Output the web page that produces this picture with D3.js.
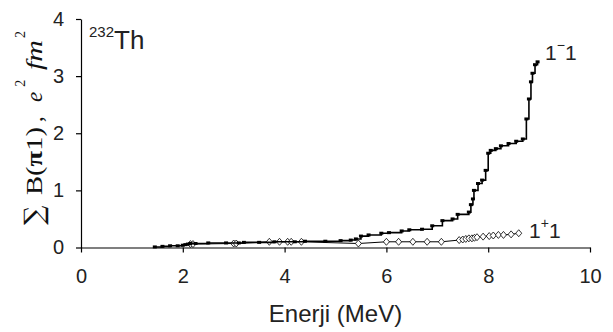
<!DOCTYPE html>
<html>
<head>
<meta charset="utf-8">
<script src="https://cdn.jsdelivr.net/npm/d3@7"></script>
<style>
  body { margin: 0; background: #fff; }
  svg { display: block; }
  .axis text { font-family: "Liberation Sans", Arial, sans-serif; font-size: 20px; fill: #222; }
  .axis path, .axis line { stroke: #000; stroke-width: 1.2; }
</style>
</head>
<body>
<div id="chart"></div>
<script>
var svgWidth = 613;
var svgHeight = 332;

// 1-1 cumulative strength (E in MeV, sum B in e^2 fm^2)
var minusEnergy = [1.45, 1.6, 1.75, 1.9, 2.0, 2.05, 2.1, 2.15, 2.25, 2.5, 2.85, 3.1, 3.2, 3.5, 3.8, 4.2, 4.4, 4.8, 5.1, 5.3, 5.4, 5.5, 5.65, 5.9, 6.05, 6.3, 6.45, 6.7, 6.9, 7.1, 7.3, 7.4, 7.62, 7.66, 7.7, 7.72, 7.8, 7.88, 7.95, 8.0, 8.05, 8.15, 8.25, 8.4, 8.55, 8.68, 8.75, 8.8, 8.84, 8.87, 8.92, 8.97];
var minusSum = [0.01, 0.02, 0.03, 0.03, 0.04, 0.05, 0.06, 0.07, 0.07, 0.08, 0.08, 0.08, 0.09, 0.09, 0.10, 0.10, 0.11, 0.11, 0.12, 0.13, 0.15, 0.20, 0.22, 0.25, 0.26, 0.29, 0.31, 0.32, 0.38, 0.47, 0.50, 0.58, 0.62, 0.75, 0.85, 1.0, 1.12, 1.18, 1.35, 1.65, 1.70, 1.73, 1.78, 1.82, 1.86, 1.90, 2.25, 2.6, 2.9, 3.05, 3.2, 3.25];

// 1+1 cumulative strength
var plusEnergy = [2.15, 2.2, 3.0, 3.05, 3.7, 3.9, 4.06, 4.13, 4.33, 5.45, 6.0, 6.24, 6.52, 6.8, 7.08, 7.43, 7.5, 7.56, 7.62, 7.68, 7.73, 7.78, 7.9, 8.02, 8.1, 8.2, 8.3, 8.45, 8.6];
var plusSum = [0.06, 0.06, 0.07, 0.07, 0.10, 0.10, 0.10, 0.10, 0.10, 0.07, 0.10, 0.10, 0.10, 0.10, 0.10, 0.13, 0.14, 0.15, 0.16, 0.16, 0.17, 0.18, 0.19, 0.20, 0.21, 0.22, 0.22, 0.23, 0.25];

var xTicks = [0, 2, 4, 6, 8, 10];
var yTicks = [0, 1, 2, 3, 4];

var minusData = minusEnergy.map((e, i) => ({ e: e, s: minusSum[i] }));
var plusData = plusEnergy.map((e, i) => ({ e: e, s: plusSum[i] }));

var svg = d3.select("#chart")
    .append("svg")
    .attr("width", svgWidth)
    .attr("height", svgHeight);

var x = d3.scaleLinear().domain([0, 10]).range([81, 590]);
var y = d3.scaleLinear().domain([0, 4]).range([247.5, 19]);

// axes
svg.append("g")
    .attr("class", "axis")
    .attr("transform", `translate(0, ${y(0)})`)
    .call(d3.axisBottom(x).tickValues(xTicks).tickFormat(d3.format("d"))
        .tickSize(5).tickSizeOuter(0).tickPadding(16));

svg.append("g")
    .attr("class", "axis")
    .attr("transform", `translate(${x(0)}, 0)`)
    .call(d3.axisLeft(y).tickValues(yTicks).tickFormat(d3.format("d"))
        .tickSize(5).tickSizeOuter(0).tickPadding(12));

// 1+1 line with open diamonds
var linePlus = d3.line().x(d => x(d.e)).y(d => y(d.s));
svg.append("path")
    .datum(plusData)
    .attr("fill", "none")
    .attr("stroke", "#000")
    .attr("stroke-width", 1)
    .attr("d", linePlus);

svg.selectAll(".diamond")
    .data(plusData)
    .enter()
    .append("path")
    .attr("class", "diamond")
    .attr("d", "M0,-3.5L3,0L0,3.5L-3,0Z")
    .attr("transform", d => `translate(${x(d.e)}, ${y(d.s)})`)
    .attr("fill", "#fff")
    .attr("stroke", "#000")
    .attr("stroke-width", 0.8);

// 1-1 step line with small filled markers
var lineMinus = d3.line().x(d => x(d.e)).y(d => y(d.s)).curve(d3.curveStepAfter);
svg.append("path")
    .datum(minusData)
    .attr("fill", "none")
    .attr("stroke", "#000")
    .attr("stroke-width", 1.6)
    .attr("d", lineMinus);

svg.selectAll(".sq")
    .data(minusData)
    .enter()
    .append("rect")
    .attr("class", "sq")
    .attr("x", d => x(d.e) - 2)
    .attr("y", d => y(d.s) - 1.5)
    .attr("width", 4)
    .attr("height", 3)
    .attr("fill", "#000");

// labels
var sans = "'Liberation Sans', Arial, sans-serif";

svg.append("text")
    .attr("x", x(5))
    .attr("y", 322)
    .attr("text-anchor", "middle")
    .attr("font-family", sans)
    .attr("font-size", 24)
    .attr("fill", "#222")
    .text("Enerji (MeV)");

var th = svg.append("text")
    .attr("x", 89)
    .attr("y", 49)
    .attr("font-family", sans)
    .attr("font-size", 26)
    .attr("fill", "#222");
th.append("tspan").attr("font-size", 15).attr("dy", -12).text("232");
th.append("tspan").attr("dy", 12).text("Th");

var lm = svg.append("text")
    .attr("x", 545)
    .attr("y", 60)
    .attr("font-family", sans)
    .attr("font-size", 21)
    .attr("fill", "#222");
lm.append("tspan").text("1");
lm.append("tspan").attr("font-size", 14).attr("dy", -10).text("\u2212");
lm.append("tspan").attr("dy", 10).text("1");

var lp = svg.append("text")
    .attr("x", 529)
    .attr("y", 238)
    .attr("font-family", sans)
    .attr("font-size", 21)
    .attr("fill", "#222");
lp.append("tspan").text("1");
lp.append("tspan").attr("font-size", 14).attr("dy", -10).text("+");
lp.append("tspan").attr("dy", 10).text("1");

// y axis title, laid out along the rotated baseline
var serif = "'Liberation Serif', 'Times New Roman', serif";
var yt = svg.append("g")
    .attr("transform", "translate(42, 225) rotate(-90)")
    .attr("font-family", serif)
    .attr("fill", "#111");
yt.append("text")
    .attr("x", 0).attr("y", 1)
    .attr("font-family", "'DejaVu Serif', serif")
    .attr("font-size", 27)
    .text("\u2211");
var bp = yt.append("text")
    .attr("x", 30)
    .attr("font-size", 23)
    .attr("textLength", 68)
    .attr("lengthAdjust", "spacingAndGlyphs");
bp.append("tspan").text("B(");
bp.append("tspan").attr("font-weight", "bold").text("\u03c0");
bp.append("tspan").text("1)");
yt.append("text").attr("x", 103).attr("font-size", 23).text(",");
var ee = yt.append("text").attr("x", 123).attr("font-size", 23).attr("font-style", "italic");
ee.append("tspan").text("e");
ee.append("tspan").attr("font-style", "normal").attr("font-size", 14).attr("dx", 5).attr("dy", -17).text("2");
var fm = yt.append("text").attr("x", 155).attr("font-size", 23).attr("font-style", "italic");
fm.append("tspan").attr("textLength", 30).attr("lengthAdjust", "spacingAndGlyphs").text("fm");
fm.append("tspan").attr("font-style", "normal").attr("font-size", 14).attr("dx", 2).attr("dy", -17).text("2");
</script>
</body>
</html>
